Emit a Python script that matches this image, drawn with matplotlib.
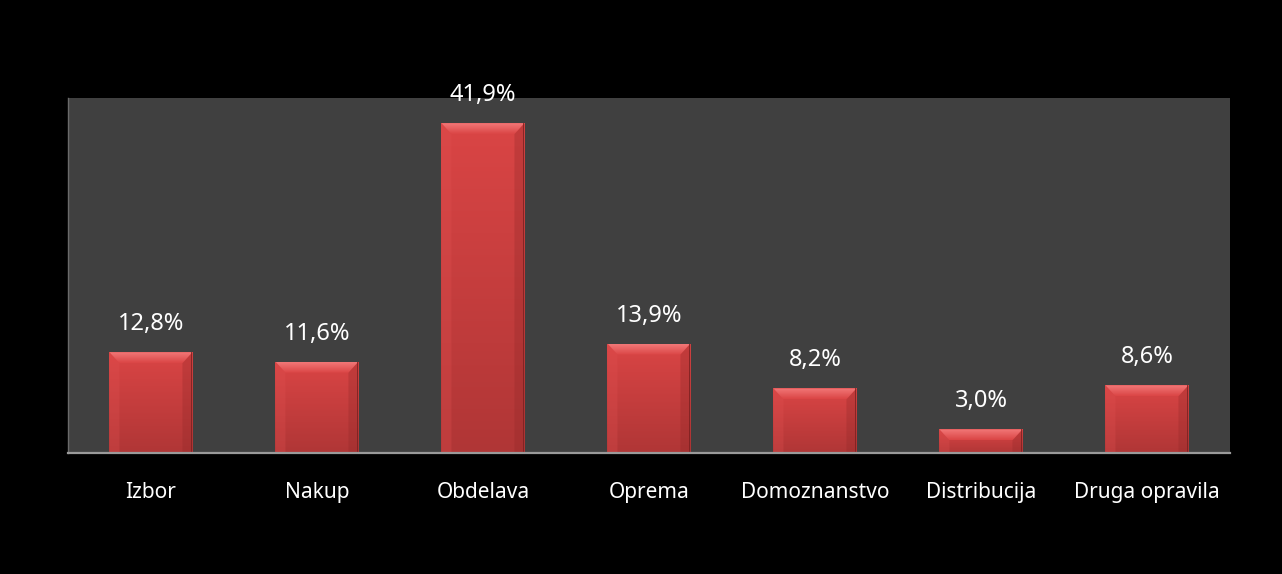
import numpy as np
import matplotlib
matplotlib.use('Agg')
import matplotlib.pyplot as plt
from matplotlib.colors import LinearSegmentedColormap
from matplotlib.patches import Polygon

categories = ['Izbor', 'Nakup', 'Obdelava', 'Oprema', 'Domoznanstvo',
              'Distribucija', 'Druga opravila']
shares = [12.8, 11.6, 41.9, 13.9, 8.2, 3.0, 8.6]
value_labels = ['12,8%', '11,6%', '41,9%', '13,9%', '8,2%', '3,0%', '8,6%']

plt.rcParams['font.family'] = ['Noto Sans', 'DejaVu Sans']

fig = plt.figure(figsize=(12.82, 5.74), dpi=100, facecolor='black')
ax = fig.add_axes([0.053, 0.2108, 0.9064, 0.6185])
ax.set_facecolor('#404040')

x = np.arange(len(categories))
ax.set_xlim(-0.5, len(categories) - 0.5)
ax.set_ylim(0, 45.1)
bars = ax.bar(x, shares, width=0.5, color='#d04040', linewidth=0, zorder=2)

# shaded face: light at the top, darker towards the base
face = LinearSegmentedColormap.from_list('face', ['#b03636', '#da4545'])
shine = LinearSegmentedColormap.from_list('shine', ['#da4545', '#f27878'])
grad = np.linspace(0, 1, 256).reshape(-1, 1)

# pixel sizes converted to data units
inv = ax.transData.inverted()
p0 = inv.transform((0, 0))
p1 = inv.transform((10, 11))
p2 = inv.transform((1.5, 0))
bx, by = p1[0] - p0[0], p1[1] - p0[1]
sx = p2[0] - p0[0]

for b in bars:
    x0, w, h = b.get_x(), b.get_width(), b.get_height()
    x1 = x0 + w
    im = ax.imshow(grad, extent=[x0, x1, 0, h], origin='lower', aspect='auto',
                   cmap=face, zorder=2.1)
    im.set_clip_path(b)
    e = min(by, h / 2)
    # top bevel with its own highlight
    top = Polygon([(x0, h), (x1, h), (x1 - bx, h - e), (x0 + bx, h - e)],
                  closed=True, facecolor='none', edgecolor='none', zorder=2.2)
    ax.add_patch(top)
    tim = ax.imshow(grad, extent=[x0, x1, h - e, h], origin='lower',
                    aspect='auto', cmap=shine, zorder=2.2)
    tim.set_clip_path(top)
    left = Polygon([(x0, 0), (x0, h), (x0 + bx, h - e), (x0 + bx, 0)],
                   closed=True, facecolor='#e05050', edgecolor='none',
                   zorder=2.2, alpha=0.3)
    right = Polygon([(x1, 0), (x1, h), (x1 - bx, h - e), (x1 - bx, 0)],
                    closed=True, facecolor='#902828', edgecolor='none',
                    zorder=2.2, alpha=0.3)
    ax.add_patch(left)
    ax.add_patch(right)
    # thin shadow line down the right edge
    ax.add_patch(plt.Rectangle((x1 - sx, 0), sx, h, facecolor='#7a2020',
                               edgecolor='none', zorder=2.3, alpha=0.8))

ax.set_xlim(-0.5, len(categories) - 0.5)
ax.set_ylim(0, 45.1)

for xi, v, lab in zip(x, shares, value_labels):
    ax.annotate(lab, (xi, v), xytext=(0, 28), textcoords='offset pixels',
                ha='center', va='center', color='white', fontsize=17)

ax.set_xticks(x)
ax.set_xticklabels(categories, color='white', fontsize=15)
ax.tick_params(axis='x', length=0, pad=21)
ax.set_yticks([])
for side in ('top', 'right'):
    ax.spines[side].set_visible(False)
ax.spines['bottom'].set_color('#9a9a9a')
ax.spines['bottom'].set_linewidth(1.6)
ax.spines['bottom'].set_zorder(3)
ax.spines['left'].set_color('#6a6a6a')
ax.spines['left'].set_linewidth(1.0)

fig.savefig('out.png', facecolor='black')
